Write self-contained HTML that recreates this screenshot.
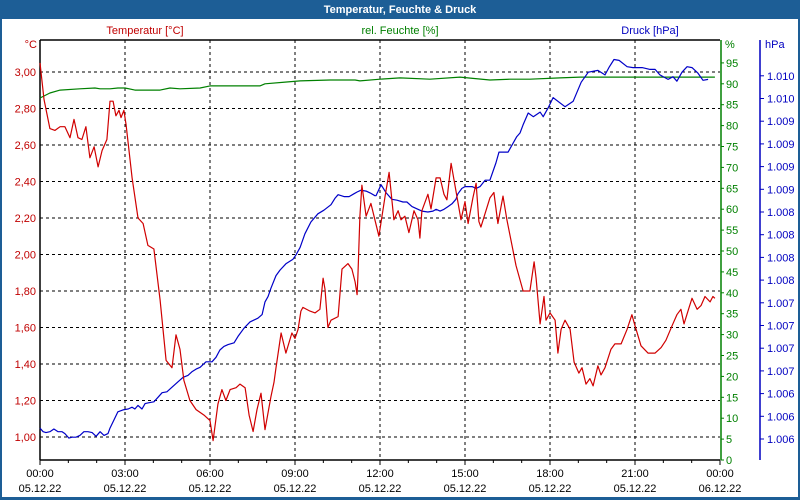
<!DOCTYPE html>
<html><head><meta charset="utf-8">
<style>
body{margin:0;background:#fff;}
#wrap{width:800px;height:500px;position:relative;overflow:hidden;font-family:"Liberation Sans",sans-serif;}
svg text{font-family:"Liberation Sans",sans-serif;font-size:11px;}
</style></head>
<body>
<div id="wrap">
<svg id="chart" width="800" height="500" xmlns="http://www.w3.org/2000/svg">
<rect x="0" y="0" width="800" height="500" fill="#1d5e96"/>
<rect x="2" y="19" width="796" height="478" fill="#fff"/>
<text x="400" y="13" text-anchor="middle" fill="#fff" font-weight="bold" style="font-size:11px">Temperatur, Feuchte &amp; Druck</text>
<text x="145" y="34" text-anchor="middle" fill="#c00000">Temperatur [°C]</text>
<text x="400" y="34" text-anchor="middle" fill="#008000">rel. Feuchte [%]</text>
<text x="650" y="34" text-anchor="middle" fill="#0000c0">Druck [hPa]</text>
<text x="37" y="48" text-anchor="end" fill="#c00000">°C</text>
<text x="725" y="48" fill="#008000">%</text>
<text x="765" y="48" fill="#0000c0">hPa</text>
<g id="grid"></g>
<g id="axes"></g>
<g id="series"></g>
</svg>
</div>
<script>
// ---- data ----
const tempHours=[0,.14,.35,.53,.71,.88,1.06,1.2,1.34,1.48,1.62,1.76,1.91,2.05,2.19,2.36,2.47,2.58,2.68,2.79,2.86,2.96,3.04,3.25,3.46,3.64,3.81,4.02,4.24,4.45,4.66,4.8,4.94,5.08,5.29,5.51,5.79,6.0,6.11,6.28,6.42,6.56,6.71,6.92,7.06,7.24,7.38,7.52,7.66,7.8,7.94,8.15,8.26,8.33,8.51,8.68,8.89,9.0,9.11,9.21,9.28,9.53,9.71,9.88,9.99,10.06,10.16,10.27,10.52,10.66,10.87,11.01,11.12,11.19,11.22,11.29,11.36,11.51,11.68,11.82,11.96,12.18,12.32,12.49,12.64,12.74,12.88,13.02,13.2,13.34,13.41,13.48,13.69,13.8,13.98,14.12,14.26,14.36,14.51,14.68,14.86,15.0,15.11,15.28,15.39,15.49,15.56,15.88,16.02,16.16,16.34,16.48,16.66,16.8,17.05,17.29,17.44,17.51,17.65,17.79,17.86,18.0,18.18,18.28,18.39,18.53,18.71,18.85,19.02,19.13,19.27,19.41,19.52,19.69,19.8,19.94,20.15,20.29,20.51,20.72,20.89,21.0,21.21,21.46,21.71,21.92,22.09,22.31,22.48,22.62,22.73,22.91,23.01,23.19,23.33,23.47,23.65,23.75,23.82];
const tempValues=[3.05,2.85,2.69,2.68,2.70,2.70,2.64,2.74,2.64,2.63,2.70,2.53,2.59,2.48,2.57,2.63,2.84,2.84,2.76,2.79,2.75,2.79,2.71,2.42,2.20,2.17,2.05,2.03,1.75,1.42,1.38,1.56,1.48,1.31,1.20,1.15,1.12,1.09,0.98,1.18,1.26,1.20,1.26,1.27,1.29,1.27,1.12,1.03,1.15,1.24,1.04,1.22,1.30,1.38,1.57,1.46,1.57,1.54,1.59,1.69,1.71,1.69,1.68,1.70,1.87,1.81,1.60,1.64,1.66,1.92,1.95,1.92,1.85,1.78,1.88,2.21,2.38,2.21,2.28,2.19,2.10,2.32,2.45,2.19,2.24,2.19,2.21,2.12,2.24,2.19,2.09,2.24,2.33,2.25,2.42,2.42,2.33,2.30,2.50,2.35,2.19,2.29,2.17,2.31,2.39,2.18,2.15,2.31,2.34,2.17,2.32,2.19,2.05,1.94,1.80,1.80,1.96,1.87,1.62,1.77,1.64,1.68,1.64,1.46,1.59,1.64,1.59,1.41,1.35,1.38,1.29,1.32,1.28,1.39,1.34,1.38,1.48,1.51,1.51,1.59,1.67,1.61,1.50,1.46,1.46,1.49,1.53,1.61,1.67,1.70,1.62,1.71,1.76,1.70,1.72,1.77,1.74,1.77,1.76];
const pressHours=[0,.11,.21,.35,.49,.64,.78,.88,1.02,1.13,1.27,1.41,1.55,1.69,1.84,1.98,2.12,2.26,2.4,2.47,2.61,2.75,2.93,3.11,3.25,3.35,3.46,3.6,3.71,3.85,4.02,4.17,4.31,4.48,4.66,4.87,5.05,5.22,5.36,5.51,5.65,5.86,6.07,6.21,6.35,6.49,6.64,6.85,6.99,7.2,7.41,7.55,7.69,7.84,7.94,8.05,8.15,8.33,8.47,8.68,8.93,9.04,9.18,9.35,9.56,9.81,10.02,10.27,10.41,10.52,10.73,10.91,11.08,11.19,11.33,11.51,11.65,11.82,11.86,12.04,12.22,12.42,12.6,12.81,12.95,13.13,13.34,13.48,13.69,13.87,13.98,14.12,14.26,14.4,14.54,14.68,14.75,14.89,15.0,15.11,15.25,15.39,15.53,15.71,15.88,16.09,16.2,16.52,16.83,16.94,17.05,17.23,17.41,17.65,17.76,17.94,18.11,18.53,18.82,19.1,19.35,19.69,19.94,20.08,20.26,20.44,20.72,20.93,21.25,21.53,21.71,21.88,22.17,22.34,22.48,22.66,22.84,23.01,23.22,23.4,23.58,23.72,23.82];
const pressValues=[1006.12,1006.08,1006.07,1006.08,1006.11,1006.08,1006.08,1006.06,1006.01,1006.02,1006.02,1006.04,1006.08,1006.08,1006.07,1006.03,1006.08,1006.04,1006.06,1006.12,1006.21,1006.30,1006.32,1006.33,1006.35,1006.33,1006.37,1006.33,1006.39,1006.40,1006.41,1006.46,1006.51,1006.52,1006.57,1006.63,1006.68,1006.70,1006.74,1006.77,1006.79,1006.85,1006.85,1006.90,1006.98,1007.02,1007.04,1007.06,1007.13,1007.22,1007.29,1007.31,1007.33,1007.37,1007.51,1007.57,1007.66,1007.80,1007.86,1007.93,1007.98,1008.03,1008.11,1008.26,1008.39,1008.48,1008.52,1008.58,1008.65,1008.69,1008.67,1008.67,1008.70,1008.72,1008.74,1008.73,1008.71,1008.68,1008.68,1008.80,1008.71,1008.64,1008.63,1008.61,1008.61,1008.56,1008.53,1008.51,1008.50,1008.51,1008.53,1008.51,1008.53,1008.56,1008.59,1008.64,1008.70,1008.76,1008.78,1008.78,1008.78,1008.76,1008.78,1008.85,1008.85,1009.04,1009.16,1009.16,1009.33,1009.37,1009.46,1009.59,1009.55,1009.60,1009.55,1009.65,1009.76,1009.66,1009.72,1009.93,1010.04,1010.06,1010.01,1010.09,1010.18,1010.17,1010.10,1010.09,1010.09,1010.07,1010.07,1010.01,1009.96,1009.99,1009.94,1010.04,1010.10,1010.09,1010.03,1009.95,1009.96];
const humHours=[0,.35,.71,1.41,1.94,2.12,2.47,2.75,3.0,3.35,4.24,4.59,4.94,5.65,6.0,6.71,7.76,7.94,8.65,9.18,10.24,11.12,11.29,12.0,12.71,13.76,14.82,15.88,16.59,17.29,18.35,19.06,19.76,21.18,22.59,23.82];
const humValues=[86.6,87.8,88.5,88.8,89.0,88.8,88.8,89.0,89.0,88.5,88.5,89.0,88.8,89.0,89.5,89.5,89.5,90.0,90.4,90.7,90.9,90.9,90.7,91.1,91.4,91.1,91.6,90.9,91.1,91.1,91.4,91.6,91.6,91.6,91.6,91.6];
const tempTicks=[1.0,1.2,1.4,1.6,1.8,2.0,2.2,2.4,2.6,2.8,3.0];
const tempTickLabels=["1,00","1,20","1,40","1,60","1,80","2,00","2,20","2,40","2,60","2,80","3,00"];
const humTicks=[0,5,10,15,20,25,30,35,40,45,50,55,60,65,70,75,80,85,90,95];
const pressTicks=[1006,1006.25,1006.5,1006.75,1007,1007.25,1007.5,1007.75,1008,1008.25,1008.5,1008.75,1009,1009.25,1009.5,1009.75,1010];
const pressTickLabels=["1.006","1.006","1.006","1.007","1.007","1.007","1.007","1.008","1.008","1.008","1.008","1.009","1.009","1.009","1.009","1.010","1.010"];
const timeTicks=[0,3,6,9,12,15,18,21,24];
const timeLabels=["00:00","03:00","06:00","09:00","12:00","15:00","18:00","21:00","00:00"];
const dateLabels=["05.12.22","05.12.22","05.12.22","05.12.22","05.12.22","05.12.22","05.12.22","05.12.22","06.12.22"];

// ---- scales ----
const PL=40,PR=720,PT=40,PB=460;
const xS=h=>PL+h*(PR-PL)/24;
const yT=t=>72+(3-t)*182.5;
const yH=v=>460-v*4.18;
const yP=p=>439-(p-1006)*90.8;
const NS="http://www.w3.org/2000/svg";
function mk(tag,attrs,parent){const e=document.createElementNS(NS,tag);for(const k in attrs)e.setAttribute(k,attrs[k]);parent.appendChild(e);return e;}
const grid=document.getElementById('grid'),axes=document.getElementById('axes'),series=document.getElementById('series');

// grid
tempTicks.forEach((t,i)=>{
  const l=mk('line',{x1:PL,x2:PR,y1:yT(t),y2:yT(t),stroke:'#000','stroke-dasharray':'3,3','stroke-width':1},grid);
  
  
  const tx=mk('text',{x:36,y:yT(t)+4,'text-anchor':'end',fill:'#c00000'},axes);
  tx.textContent=tempTickLabels[i];
  
  
});
timeTicks.forEach((h,i)=>{
  if(i>0&&i<timeTicks.length-1){
    const l=mk('line',{x1:xS(h),x2:xS(h),y1:PT,y2:PB,stroke:'#000','stroke-dasharray':'3,3','stroke-width':1},grid);
    
    
  }
  const t1=mk('text',{x:xS(h),y:477,'text-anchor':'middle',fill:'#000'},axes);
  t1.textContent=timeLabels[i];
  
  
  const t2=mk('text',{x:xS(h),y:492,'text-anchor':'middle',fill:'#000'},axes);
  t2.textContent=dateLabels[i];
  
  
});
for(let h=0;h<=24;h++){
  const l=mk('line',{x1:xS(h),x2:xS(h),y1:PB,y2:PB+(h%3==0?5:3),stroke:'#000'},axes);
  
  
}
// axis lines
let a=mk('line',{x1:PL,x2:PL,y1:PT,y2:PB,stroke:'#000','stroke-width':1.5},axes);

a=mk('line',{x1:PL,x2:PR,y1:PB,y2:PB,stroke:'#000','stroke-width':1.5},axes);

a=mk('line',{x1:PL,x2:PR,y1:PT,y2:PT,stroke:'#000','stroke-width':1.5},axes);

a=mk('line',{x1:PR+1,x2:PR+1,y1:PT,y2:PB,stroke:'#008000','stroke-width':1.5},axes);

a=mk('line',{x1:760,x2:760,y1:PT,y2:PB,stroke:'#0000c0','stroke-width':1.5},axes);

humTicks.forEach(v=>{
  const l=mk('line',{x1:PR+1,x2:PR+4,y1:yH(v),y2:yH(v),stroke:'#008000'},axes);
  
  
  const t=mk('text',{x:726,y:yH(v)+4,fill:'#008000'},axes);
  t.textContent=String(v);
  
  
});
pressTicks.forEach((p,i)=>{
  const l=mk('line',{x1:760,x2:764,y1:yP(p),y2:yP(p),stroke:'#0000c0'},axes);
  
  
  const t=mk('text',{x:767,y:yP(p)+4,fill:'#0000c0'},axes);
  t.textContent=pressTickLabels[i];
  
  
});
// series
function line(hs,vs,ys,color,name){
  const d=hs.map((h,i)=>(i?'L':'M')+xS(h).toFixed(1)+','+ys(vs[i]).toFixed(1)).join('');
  const p=mk('path',{d:d,fill:'none',stroke:color,'stroke-width':1.2,'stroke-linejoin':'round'},series);
  
  
}
line(humHours,humValues,yH,'#008000','humidity-line');
line(pressHours,pressValues,yP,'#0000c8','pressure-line');
line(tempHours,tempValues,yT,'#d00000','temperature-line');
</script>
</body></html>
